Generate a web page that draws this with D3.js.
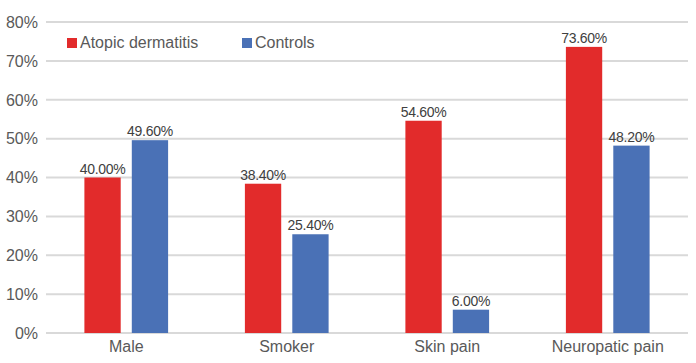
<!DOCTYPE html>
<html>
<head>
<meta charset="utf-8">
<script src="https://cdn.jsdelivr.net/npm/d3@7/dist/d3.min.js"></script>
<style>
  body { margin: 0; background: #fff; }
  svg { display: block; font-family: "Liberation Sans", Arial, sans-serif; }
</style>
</head>
<body>
<svg width="696" height="363"></svg>
<script>
// data
var categories = ["Male", "Smoker", "Skin pain", "Neuropatic pain"];
var seriesNames = ["Atopic dermatitis", "Controls"];
var atopic = [40.0, 38.4, 54.6, 73.6];
var controls = [49.6, 25.4, 6.0, 48.2];
var yTicks = [0, 10, 20, 30, 40, 50, 60, 70, 80];

var colors = { "Atopic dermatitis": "#e22b2b", "Controls": "#4a71b6" };

var width = 696, height = 363;
var margin = { top: 22, right: 8, bottom: 30, left: 46 };

var rows = categories.map(function(c, i) {
    return { cat: c, values: [
        { name: seriesNames[0], v: atopic[i] },
        { name: seriesNames[1], v: controls[i] }
    ] };
});

var svg = d3.select("svg");

var x0 = d3.scaleBand()
    .domain(categories)
    .range([margin.left, width - margin.right]);

var x1 = d3.scaleBand()
    .domain(seriesNames)
    .range([0, x0.bandwidth()])
    .paddingInner(0.234)
    .paddingOuter(0.81);

var y = d3.scaleLinear()
    .domain([0, 80])
    .range([height - margin.bottom, margin.top]);

// gridlines
svg.append("g")
  .selectAll("line")
  .data(yTicks)
  .enter().append("line")
    .attr("x1", margin.left)
    .attr("x2", width - margin.right)
    .attr("y1", d => y(d))
    .attr("y2", d => y(d))
    .attr("stroke", "#d9d9d9")
    .attr("stroke-width", 2);

// y labels
svg.append("g")
  .selectAll("text")
  .data(yTicks)
  .enter().append("text")
    .attr("x", 38)
    .attr("y", d => y(d))
    .attr("dy", "0.36em")
    .attr("text-anchor", "end")
    .attr("font-size", 16)
    .attr("fill", "#595959")
    .text(d => d + "%");

// bars
var groups = svg.append("g")
  .selectAll("g")
  .data(rows)
  .enter().append("g")
    .attr("transform", d => "translate(" + x0(d.cat) + ",0)");

groups.selectAll("rect")
  .data(d => d.values)
  .enter().append("rect")
    .attr("x", d => x1(d.name))
    .attr("y", d => y(d.v))
    .attr("width", x1.bandwidth())
    .attr("height", d => y(0) - y(d.v))
    .attr("fill", d => colors[d.name]);

groups.selectAll("text")
  .data(d => d.values)
  .enter().append("text")
    .attr("x", d => x1(d.name) + x1.bandwidth() / 2)
    .attr("y", d => y(d.v) - 4)
    .attr("text-anchor", "middle")
    .attr("font-size", 14)
    .attr("letter-spacing", "-0.3")
    .attr("fill", "#404040")
    .text(d => d.v.toFixed(2) + "%");

// x labels
svg.append("g")
  .selectAll("text")
  .data(categories)
  .enter().append("text")
    .attr("x", d => x0(d) + x0.bandwidth() / 2)
    .attr("y", 352)
    .attr("text-anchor", "middle")
    .attr("font-size", 16)
    .attr("fill", "#595959")
    .text(d => d);

// legend
var legendX = [67, 242];
var legend = svg.append("g")
  .selectAll("g")
  .data(seriesNames)
  .enter().append("g")
    .attr("transform", (d, i) => "translate(" + legendX[i] + ",38)");

legend.append("rect")
    .attr("width", 10)
    .attr("height", 10)
    .attr("fill", d => colors[d]);

legend.append("text")
    .attr("x", 13)
    .attr("y", 10)
    .attr("font-size", 16)
    .attr("fill", "#595959")
    .text(d => d);
</script>
</body>
</html>
